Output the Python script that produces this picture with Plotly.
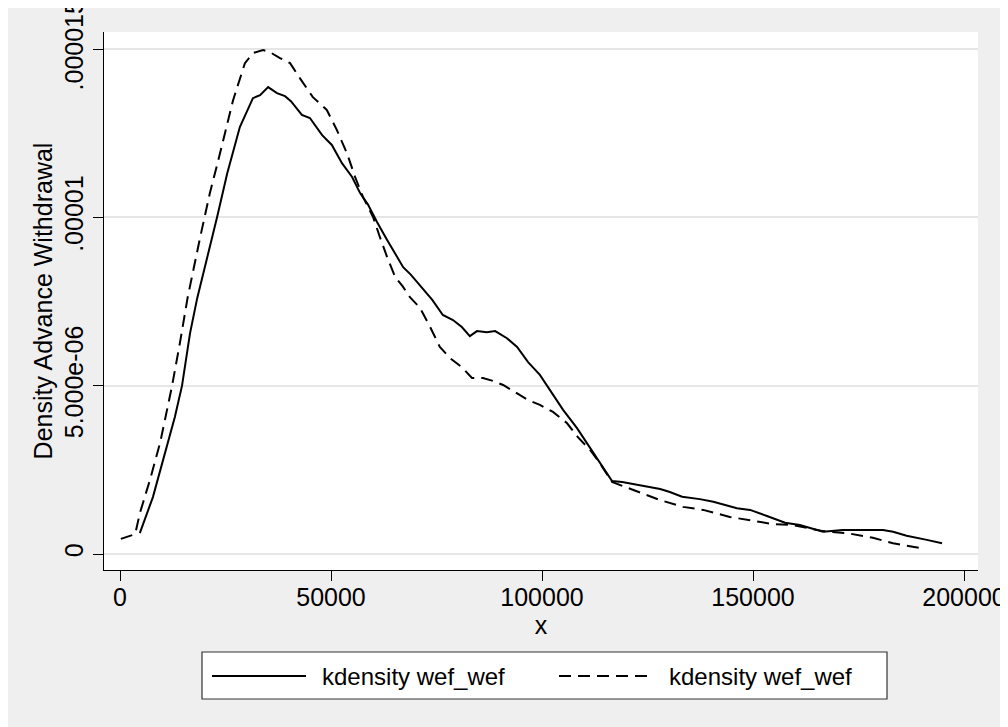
import plotly.graph_objects as go

# ---- data (x in thousands, density in 1e-6 units) ----
solid_x_k = [4.7, 7.8, 13.0, 14.7, 16.6, 18.3, 23.0, 25.4, 28.4, 31.5, 33.2, 35.1, 37.2, 39.1,
             40.5, 43.1, 45.0, 47.9, 50.2, 52.6, 55.0, 56.9, 58.8, 60.9, 63.3, 65.2, 67.1, 68.9,
             71.8, 74.0, 76.5, 78.9, 81.0, 82.9, 84.6, 86.9, 88.9, 91.7, 94.1, 96.7, 99.5, 101.9,
             105.0, 108.3, 111.4, 113.7, 116.6, 119.0, 123.7, 128.0, 130.3, 133.2, 137.4, 140.6,
             146.2, 149.3, 153.3, 157.6, 161.1, 166.6, 171.3, 175.4, 180.8, 183.2, 186.4, 191.2, 194.8]
solid_y_u = [0.62, 1.69, 4.07, 5.0, 6.56, 7.6, 10.0, 11.3, 12.68, 13.54, 13.63, 13.87, 13.69, 13.60,
             13.45, 13.04, 12.95, 12.44, 12.15, 11.61, 11.2, 10.72, 10.37, 9.86, 9.33, 8.94, 8.52, 8.3,
             7.87, 7.55, 7.10, 6.95, 6.74, 6.47, 6.62, 6.59, 6.62, 6.41, 6.15, 5.70, 5.32, 4.87,
             4.28, 3.74, 3.15, 2.7, 2.17, 2.14, 2.02, 1.93, 1.84, 1.70, 1.63, 1.55,
             1.36, 1.31, 1.13, 0.93, 0.86, 0.66, 0.71, 0.71, 0.71, 0.66, 0.54, 0.42, 0.32]

dash_x_k = [0.2, 3.6, 4.7, 7.1, 9.5, 12.3, 14.2, 16.0, 19.0, 21.3, 23.7, 26.8, 29.6, 31.5, 33.9,
            35.5, 37.9, 40.3, 42.7, 45.7, 49.0, 51.4, 53.8, 55.7, 57.6, 60.0, 61.6, 63.3, 65.2,
            67.0, 68.7, 71.1, 73.5, 75.8, 78.2, 81.0, 83.4, 86.0, 88.4, 90.8, 93.6, 96.7, 99.5,
            102.6, 105.9, 108.5, 111.4, 113.7, 116.6, 121.6, 128.0, 133.4, 138.2, 144.5, 149.3,
            154.7, 159.5, 166.6, 172.3, 178.4, 183.2, 189.6]
dash_y_u = [0.45, 0.59, 1.21, 2.2, 3.30, 4.97, 6.27, 7.6, 9.41, 10.72, 11.9, 13.48, 14.58, 14.88, 14.97,
            14.91, 14.73, 14.58, 14.12, 13.57, 13.19, 12.59, 11.9, 11.2, 10.6, 10.0, 9.41, 8.82, 8.23,
            7.95, 7.63, 7.31, 6.74, 6.15, 5.82, 5.55, 5.23, 5.23, 5.14, 5.02, 4.81, 4.57, 4.43,
            4.22, 3.89, 3.47, 3.09, 2.7, 2.14, 1.90, 1.60, 1.40, 1.31, 1.10, 1.01,
            0.89, 0.86, 0.68, 0.62, 0.48, 0.32, 0.18]

series_names = ["kdensity wef_wef", "kdensity wef_wef"]
x_tickvals = [0, 50000, 100000, 150000, 200000]
x_ticktext = ["0", "50000", "100000", "150000", "200000"]
y_tickvals = [0, 5e-6, 1e-5, 1.5e-5]
y_ticktext = ["0", "5.000e-06", ".00001", ".000015"]

solid_x = [v * 1000 for v in solid_x_k]
solid_y = [v * 1e-6 for v in solid_y_u]
dash_x = [v * 1000 for v in dash_x_k]
dash_y = [v * 1e-6 for v in dash_y_u]

FONT = "Liberation Sans, Arial, Helvetica, sans-serif"
BG = "#efefef"

fig = go.Figure()
fig.add_trace(go.Scatter(x=solid_x, y=solid_y, mode="lines", name=series_names[0],
                         line=dict(color="black", width=2), showlegend=False))
fig.add_trace(go.Scatter(x=dash_x, y=dash_y, mode="lines", name=series_names[1],
                         line=dict(color="black", width=2, dash="12px,7px"), showlegend=False))

# page body has an 8px margin, so the figure is drawn at screen offset (8, 8)
OFF = 8
W, H = 1000, 719
L, R, T, B = 96, 30, 24, 157
pw, ph = W - L - R, H - T - B


def px(xs):
    return (xs - OFF - L) / pw


def py(ys):
    return (H - B - (ys - OFF)) / ph


shapes = []
# legend box
shapes.append(dict(type="rect", xref="paper", yref="paper", x0=px(202), x1=px(887),
                   y0=py(699), y1=py(652), fillcolor="white", line=dict(color="#333333", width=1.2)))
ly = py(676)
shapes.append(dict(type="line", xref="paper", yref="paper", x0=px(212), x1=px(306), y0=ly, y1=ly,
                   line=dict(color="black", width=2)))
shapes.append(dict(type="line", xref="paper", yref="paper", x0=px(559), x1=px(653), y0=ly, y1=ly,
                   line=dict(color="black", width=2, dash="12px,7px")))

annotations = [
    dict(x=px(320), y=ly, xref="paper", yref="paper", text=series_names[0], showarrow=False,
         xanchor="left", yanchor="middle", font=dict(family=FONT, size=24, color="black")),
    dict(x=px(667), y=ly, xref="paper", yref="paper", text=series_names[1], showarrow=False,
         xanchor="left", yanchor="middle", font=dict(family=FONT, size=24, color="black")),
]

fig.update_layout(
    width=W, height=H,
    margin=dict(l=L, r=R, t=T, b=B, pad=0, autoexpand=False),
    paper_bgcolor=BG, plot_bgcolor="white",
    font=dict(family=FONT, size=25, color="black"),
    shapes=shapes, annotations=annotations,
    xaxis=dict(range=[-3791, 203318], tickvals=x_tickvals, ticktext=x_ticktext,
               showgrid=False, zeroline=False, showline=True, linecolor="black", linewidth=1.2,
               ticks="outside", ticklen=10, tickwidth=1.2, tickcolor="black", automargin=False,
               tickfont=dict(size=25), ticklabelstandoff=-5, ticklabeloverflow="allow",
               title=dict(text="x", font=dict(size=25), standoff=6)),
    yaxis=dict(range=[-0.475e-6, 15.505e-6], tickvals=y_tickvals, ticktext=y_ticktext,
               showgrid=True, gridcolor="#e6e6e6", gridwidth=2, zeroline=False,
               showline=True, linecolor="black", linewidth=1.2, automargin=False,
               ticks="outside", ticklen=10, tickwidth=1.2, tickcolor="black",
               tickangle=-90, tickfont=dict(size=25), ticklabeloverflow="allow",
               title=dict(text="Density Advance Withdrawal", font=dict(size=25), standoff=0)),
)

fig.write_html("out.html")
